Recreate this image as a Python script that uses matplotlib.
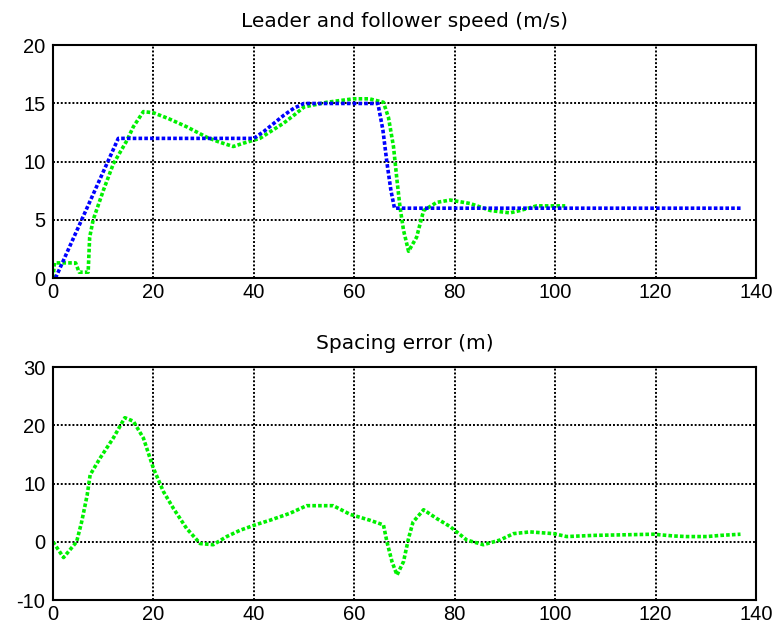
import matplotlib
matplotlib.use('Agg')
import matplotlib.pyplot as plt

plt.rcParams['font.family'] = ['Liberation Sans', 'DejaVu Sans']
plt.rcParams['axes.unicode_minus'] = False

# leader speed (blue)
leader_t = [0.5, 13, 40, 42, 44, 46, 48, 50, 64.7, 65.7, 66.5, 67.3, 68, 137]
leader_v = [0, 12, 12, 12.6, 13.3, 14, 14.6, 15, 15, 12.7, 9.9, 7.5, 6, 6]

# follower speed (green)
follower_t = [0, 0.3, 4.5, 5.2, 7, 7.3, 8, 10, 12, 14.7, 16, 18, 20, 23, 26.6, 30.6,
              33, 35.9, 38, 40, 41.2, 43, 45.9, 48, 50, 54.5, 59.8, 63, 65.8, 66.8,
              67.8, 68.5, 69.1, 69.8, 70.8, 72.4, 73.8, 76.4, 79.1, 83.1, 87.1, 89,
              91, 93, 96.3, 102]
follower_v = [0, 1.3, 1.3, 0.5, 0.5, 3.5, 5.0, 7.5, 9.8, 11.8, 13.0, 14.3, 14.2, 13.7,
              13.0, 12.1, 11.7, 11.3, 11.6, 11.85, 12.0, 12.5, 13.3, 14.0, 14.7, 15.1,
              15.4, 15.4, 15.1, 13.8, 11.3, 8.4, 6.1, 4.1, 2.3, 3.5, 5.8, 6.5, 6.7, 6.4,
              5.8, 5.7, 5.6, 5.8, 6.2, 6.2]

# spacing error (green)
err_t = [0, 2.1, 4.7, 5.7, 6.8, 7.4, 9.4, 12, 14.3, 16, 18, 20, 22, 24, 26.6, 29.3,
         31.9, 34.6, 37.3, 40.6, 43.2, 47.2, 50.5, 55.8, 59.2, 63.1, 65.8, 66.5, 67.5,
         68.5, 69.8, 70.8, 71.7, 73.8, 76.4, 79.1, 82.4, 85.7, 89, 91.7, 95, 99.7,
         102.3, 107.6, 119.6, 123.6, 126.2, 130.2, 132.9, 136.9]
err_e = [0, -2.7, 0, 3.4, 8.0, 11.5, 14.4, 17.8, 21.3, 20.7, 17.8, 12.6, 8.6, 5.7, 2.3,
         -0.3, -0.5, 0.9, 2.0, 3.0, 3.7, 4.9, 6.2, 6.2, 4.7, 3.7, 2.9, 0, -3.4, -5.7,
         -3.4, 0.6, 3.4, 5.5, 4.0, 2.6, 0.3, -0.5, 0.3, 1.4, 1.7, 1.4, 0.9, 1.1, 1.3,
         1.0, 0.9, 0.9, 1.1, 1.3]

x_ticks = [0, 20, 40, 60, 80, 100, 120, 140]
speed_ticks = [0, 5, 10, 15, 20]
err_ticks = [-10, 0, 10, 20, 30]

fig = plt.figure(figsize=(7.76, 6.29), dpi=100)
ax1 = fig.add_axes([0.0683, 0.558, 0.906, 0.370])
ax2 = fig.add_axes([0.0683, 0.046, 0.906, 0.3705])


def style(ax, yticks, title):
    ax.set_xlim(0, 140)
    ax.set_ylim(yticks[0], yticks[-1])
    ax.set_xticks(x_ticks)
    ax.set_yticks(yticks)
    ax.grid(True, color='black', linestyle=(0, (1, 1)), linewidth=1.4)
    ax.tick_params(length=0, labelsize=14.5)
    ax.tick_params(axis='x', pad=3.5)
    ax.tick_params(axis='y', pad=5.5)
    for s in ax.spines.values():
        s.set_linewidth(1.5)
    ax.set_title(title, fontsize=14.5, pad=13, family='DejaVu Sans')


ax1.plot(follower_t, follower_v, color='#00f000', linestyle=(0, (1, 0.6)), linewidth=2.6)
ax1.plot(leader_t, leader_v, color='#0000ff', linestyle=(0, (1, 0.6)), linewidth=2.6)
style(ax1, speed_ticks, 'Leader and follower speed (m/s)')

ax2.plot(err_t, err_e, color='#00f000', linestyle=(0, (1, 0.6)), linewidth=2.6)
style(ax2, err_ticks, 'Spacing error (m)')

fig.savefig('out.png', dpi=100)
